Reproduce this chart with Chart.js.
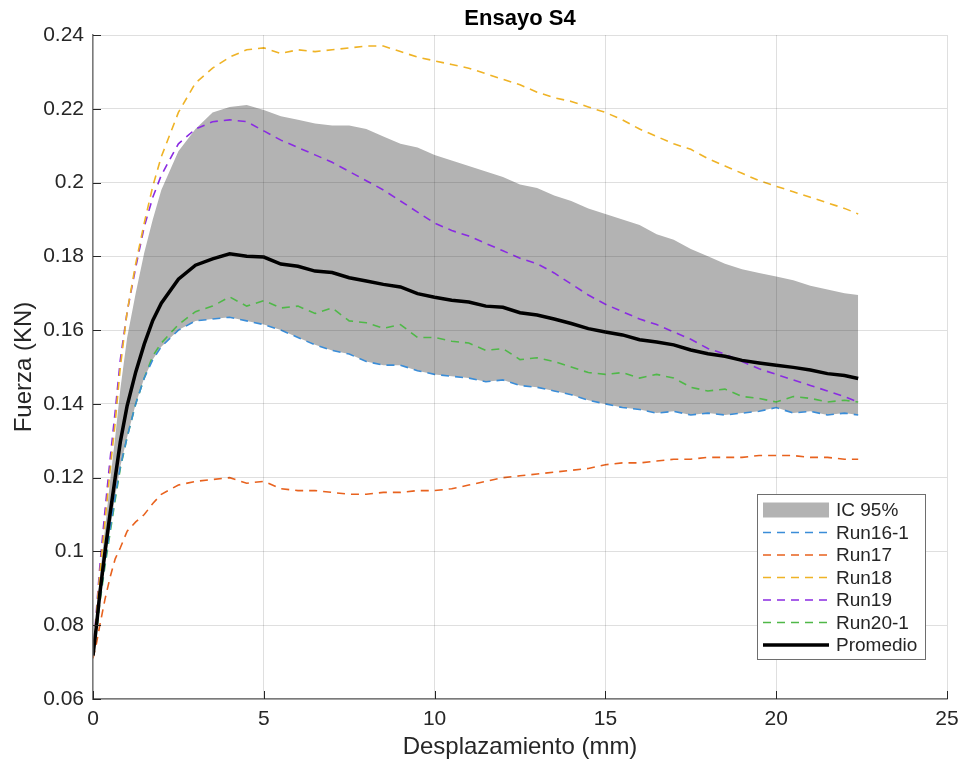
<!DOCTYPE html>
<html>
<head>
<meta charset="utf-8">
<script src="https://cdn.jsdelivr.net/npm/chart.js@4.4.1/dist/chart.umd.min.js"></script>
<style>
  html, body { margin: 0; padding: 0; background: #fff; }
  canvas { display: block; }
</style>
</head>
<body>
<canvas id="grafico" width="963" height="767"></canvas>
<script>
// desplazamiento (mm)
var desplazamiento = [0, 0.1, 0.2, 0.35, 0.5, 0.65, 0.8, 1.0, 1.25, 1.5, 1.75, 2.0, 2.5, 3.0, 3.5, 4.0, 4.5, 5.0, 5.5, 6.0, 6.5, 7.0, 7.5, 8.0, 8.5, 9.0, 9.5, 10.0, 10.5, 11.0, 11.5, 12.0, 12.5, 13.0, 13.5, 14.0, 14.5, 15.0, 15.5, 16.0, 16.5, 17.0, 17.5, 18.0, 18.5, 19.0, 19.5, 20.0, 20.5, 21.0, 21.5, 22.0, 22.4];

// fuerza (KN) por ensayo
var run16_1 = [0.072, 0.079, 0.087, 0.097, 0.106, 0.115, 0.123, 0.131, 0.140, 0.147, 0.152, 0.1555, 0.160, 0.1625, 0.163, 0.1635, 0.1625, 0.1615, 0.160, 0.158, 0.156, 0.1545, 0.1535, 0.1515, 0.1505, 0.1505, 0.149, 0.148, 0.1475, 0.147, 0.146, 0.1465, 0.145, 0.1445, 0.1435, 0.1425, 0.141, 0.140, 0.139, 0.1385, 0.1375, 0.138, 0.137, 0.1375, 0.137, 0.1375, 0.138, 0.139, 0.1375, 0.138, 0.137, 0.1375, 0.137];
var run17 = [0.071, 0.075, 0.080, 0.087, 0.093, 0.098, 0.101, 0.1055, 0.108, 0.110, 0.113, 0.1155, 0.118, 0.119, 0.1195, 0.120, 0.1185, 0.119, 0.117, 0.1165, 0.1165, 0.116, 0.1155, 0.1155, 0.116, 0.116, 0.1165, 0.1165, 0.117, 0.118, 0.119, 0.120, 0.1205, 0.121, 0.1215, 0.122, 0.1225, 0.1235, 0.124, 0.124, 0.1245, 0.125, 0.125, 0.1255, 0.1255, 0.1255, 0.126, 0.126, 0.126, 0.1255, 0.1255, 0.125, 0.125];
var run18 = [0.072, 0.083, 0.094, 0.108, 0.122, 0.135, 0.150, 0.165, 0.178, 0.189, 0.199, 0.207, 0.219, 0.227, 0.231, 0.234, 0.236, 0.2365, 0.235, 0.236, 0.2355, 0.236, 0.2365, 0.237, 0.237, 0.2355, 0.234, 0.233, 0.232, 0.231, 0.2295, 0.228, 0.2265, 0.2245, 0.223, 0.222, 0.2205, 0.219, 0.217, 0.2145, 0.2125, 0.2105, 0.209, 0.2065, 0.2045, 0.2025, 0.2005, 0.199, 0.1975, 0.196, 0.1945, 0.193, 0.1915];
var run19 = [0.072, 0.084, 0.096, 0.111, 0.125, 0.138, 0.152, 0.165, 0.177, 0.188, 0.196, 0.202, 0.2105, 0.2145, 0.2165, 0.217, 0.2165, 0.214, 0.2115, 0.2095, 0.2075, 0.2055, 0.203, 0.2005, 0.198, 0.195, 0.192, 0.189, 0.187, 0.1855, 0.1835, 0.1815, 0.1795, 0.178, 0.1755, 0.1725, 0.1695, 0.167, 0.165, 0.163, 0.1615, 0.1595, 0.1575, 0.155, 0.1535, 0.1515, 0.1495, 0.148, 0.1465, 0.145, 0.1435, 0.142, 0.1405];
var run20_1 = [0.072, 0.078, 0.086, 0.096, 0.105, 0.114, 0.1225, 0.131, 0.140, 0.147, 0.153, 0.1565, 0.1615, 0.165, 0.1665, 0.169, 0.1665, 0.168, 0.166, 0.1665, 0.1645, 0.166, 0.1625, 0.162, 0.1605, 0.1615, 0.158, 0.158, 0.157, 0.1565, 0.1545, 0.155, 0.152, 0.1525, 0.1515, 0.150, 0.1485, 0.148, 0.1485, 0.147, 0.148, 0.147, 0.1445, 0.1435, 0.144, 0.142, 0.1415, 0.1405, 0.142, 0.1415, 0.1405, 0.141, 0.1405];
var promedio = [0.0718, 0.0798, 0.0886, 0.0998, 0.1102, 0.120, 0.1297, 0.1395, 0.1486, 0.1562, 0.1626, 0.1673, 0.1738, 0.1776, 0.1793, 0.1807, 0.180, 0.1798, 0.1779, 0.1773, 0.176, 0.1756, 0.1742, 0.1733, 0.1724, 0.1717, 0.1699, 0.1689, 0.1681, 0.1676, 0.1665, 0.1662, 0.1647, 0.1641, 0.163, 0.1618, 0.1604, 0.1595, 0.1587, 0.1574, 0.1568, 0.156, 0.1546, 0.1536, 0.1529, 0.1518, 0.1511, 0.1505, 0.1499, 0.1492, 0.1482, 0.1477, 0.1469];

// intervalo de confianza 95%
var icSuperior = [0.072, 0.082, 0.093, 0.106, 0.119, 0.131, 0.144, 0.158, 0.170, 0.181, 0.190, 0.198, 0.2085, 0.2145, 0.219, 0.2205, 0.221, 0.2197, 0.218, 0.217, 0.216, 0.2155, 0.2155, 0.2145, 0.2125, 0.2105, 0.2095, 0.2075, 0.206, 0.2045, 0.203, 0.2015, 0.1995, 0.1985, 0.1965, 0.195, 0.193, 0.1915, 0.190, 0.1885, 0.186, 0.1845, 0.182, 0.180, 0.178, 0.1765, 0.1755, 0.1745, 0.1735, 0.172, 0.171, 0.170, 0.1695];
var icInferior = [0.0715, 0.076, 0.081, 0.088, 0.094, 0.099, 0.104, 0.110, 0.1165, 0.122, 0.1265, 0.131, 0.136, 0.1385, 0.1395, 0.140, 0.1395, 0.139, 0.138, 0.1365, 0.1355, 0.1345, 0.1335, 0.1325, 0.132, 0.1315, 0.131, 0.1305, 0.130, 0.130, 0.1295, 0.1295, 0.129, 0.1285, 0.128, 0.128, 0.1275, 0.127, 0.127, 0.1265, 0.1265, 0.1265, 0.126, 0.126, 0.126, 0.1255, 0.1255, 0.1255, 0.1255, 0.125, 0.125, 0.125, 0.1245];

var xTicks = [0, 5, 10, 15, 20, 25];
var yTicks = [0.06, 0.08, 0.1, 0.12, 0.14, 0.16, 0.18, 0.2, 0.22, 0.24];

function puntos(ys) {
  return ys.map(function (y, i) { return { x: desplazamiento[i], y: y }; });
}

var fuente = "'Liberation Sans', Arial, Helvetica, sans-serif";
var colorTexto = "#262626";
var guion = [8, 6];

function serie(label, datos, color) {
  return {
    label: label,
    data: puntos(datos),
    borderColor: color,
    backgroundColor: color,
    borderWidth: 1.6,
    borderDash: guion,
    pointRadius: 0,
    fill: false,
    order: 1,
  };
}

// título centrado sobre el área de trazado
var tituloCentrado = {
  id: "tituloCentrado",
  afterLayout: function (chart) {
    if (chart.titleBlock) {
      chart.titleBlock.left = chart.chartArea.left;
      chart.titleBlock.right = chart.chartArea.right;
    }
  },
};

// leyenda dentro del área de trazado, esquina inferior derecha
var leyendaInterna = {
  id: "leyendaInterna",
  afterDraw: function (chart) {
    var ctx = chart.ctx;
    var area = chart.chartArea;
    var items = chart.data.datasets.filter(function (d) { return d.label; });
    var w = 168, h = 165;
    var left = area.right - 22 - w;
    var top = area.bottom - 40 - h;
    ctx.save();
    ctx.fillStyle = "#fff";
    ctx.fillRect(left, top, w, h);
    ctx.strokeStyle = "#6e6e6e";
    ctx.lineWidth = 1;
    ctx.strokeRect(left + 0.5, top + 0.5, w, h);
    ctx.font = "19px " + fuente;
    ctx.textBaseline = "middle";
    items.forEach(function (d, i) {
      var y = top + 16 + i * 22.5;
      if (d.fill) {
        ctx.fillStyle = d.backgroundColor;
        ctx.fillRect(left + 6, y - 7.5, 66, 15);
      } else {
        ctx.strokeStyle = d.borderColor;
        ctx.lineWidth = d.borderWidth;
        ctx.setLineDash(d.borderDash || []);
        ctx.beginPath();
        ctx.moveTo(left + 6, y);
        ctx.lineTo(left + 72, y);
        ctx.stroke();
        ctx.setLineDash([]);
      }
      ctx.fillStyle = colorTexto;
      ctx.fillText(d.label, left + 79, y + 1);
    });
    ctx.restore();
  },
};

// marcas de graduación hacia adentro
var marcasInternas = {
  id: "marcasInternas",
  afterDraw: function (chart) {
    var ctx = chart.ctx;
    var area = chart.chartArea;
    var sx = chart.scales.x, sy = chart.scales.y;
    ctx.save();
    ctx.strokeStyle = colorTexto;
    ctx.lineWidth = 1;
    ctx.beginPath();
    xTicks.forEach(function (v) {
      var px = Math.round(sx.getPixelForValue(v)) + 0.5;
      ctx.moveTo(px, area.bottom);
      ctx.lineTo(px, area.bottom - 8);
    });
    yTicks.forEach(function (v) {
      var py = Math.round(sy.getPixelForValue(v)) + 0.5;
      ctx.moveTo(area.left, py);
      ctx.lineTo(area.left + 8, py);
    });
    ctx.stroke();
    ctx.restore();
  },
};

var ctx = document.getElementById("grafico").getContext("2d");
var grafico = new Chart(ctx, {
  type: "line",
  data: {
    datasets: [
      {
        label: "IC 95%",
        data: puntos(icSuperior),
        borderColor: "rgba(0,0,0,0)",
        backgroundColor: "#b3b3b3",
        borderWidth: 0,
        pointRadius: 0,
        fill: "+1",
        order: 2,
      },
      serie("Run16-1", run16_1, "#3a8dd8"),
      serie("Run17", run17, "#e8621e"),
      serie("Run18", run18, "#efb326"),
      serie("Run19", run19, "#8a2be2"),
      serie("Run20-1", run20_1, "#4fb848"),
      {
        label: "Promedio",
        data: puntos(promedio),
        borderColor: "#000",
        backgroundColor: "#000",
        borderWidth: 3.5,
        pointRadius: 0,
        fill: false,
        order: 0,
      },
      {
        label: "",
        data: puntos(icInferior),
        borderColor: "rgba(0,0,0,0)",
        backgroundColor: "#b3b3b3",
        borderWidth: 0,
        pointRadius: 0,
        fill: false,
        order: 2,
      },
    ],
  },
  options: {
    responsive: false,
    animation: false,
    layout: { padding: { left: 0, right: 16, top: 0, bottom: 0 } },
    plugins: {
      legend: { display: false },
      tooltip: { enabled: false },
      filler: { drawTime: "beforeDatasetsDraw" },
      title: {
        display: true,
        text: "Ensayo S4",
        color: "#000",
        font: { family: fuente, size: 22, weight: "bold" },
        padding: { top: 6, bottom: 2.6 },
      },
    },
    scales: {
      x: {
        type: "linear",
        min: 0,
        max: 25,
        afterFit: function (s) {
          s.height = 68;
          s.paddingLeft = 0;
          s.paddingRight = 0;
        },
        afterBuildTicks: function (s) { s.ticks = xTicks.map(function (v) { return { value: v }; }); },
        ticks: {
          color: colorTexto,
          font: { family: fuente, size: 21 },
          padding: 8,
          maxRotation: 0,
        },
        grid: { color: "rgba(38,38,38,0.15)", drawTicks: false, z: 1 },
        border: { color: "#7a7a7a", width: 1.5, z: 1 },
        title: {
          display: true,
          text: "Desplazamiento (mm)",
          color: colorTexto,
          font: { family: fuente, size: 24 },
          padding: { top: 0, bottom: 5 },
        },
      },
      y: {
        type: "linear",
        min: 0.06,
        max: 0.24,
        afterFit: function (s) {
          s.width = 93;
          s.paddingTop = 0;
          s.paddingBottom = 0;
        },
        afterBuildTicks: function (s) { s.ticks = yTicks.map(function (v) { return { value: v }; }); },
        ticks: {
          color: colorTexto,
          font: { family: fuente, size: 21 },
          padding: 9,
          callback: function (v) { return String(Number(v.toFixed(2))); },
        },
        grid: { color: "rgba(38,38,38,0.15)", drawTicks: false, z: 1 },
        border: { color: "#7a7a7a", width: 1.5, z: 1 },
        title: {
          display: true,
          text: "Fuerza (KN)",
          color: colorTexto,
          font: { family: fuente, size: 24 },
          padding: { top: 10, bottom: 0 },
        },
      },
    },
  },
  plugins: [tituloCentrado, marcasInternas, leyendaInterna],
});
</script>
</body>
</html>
